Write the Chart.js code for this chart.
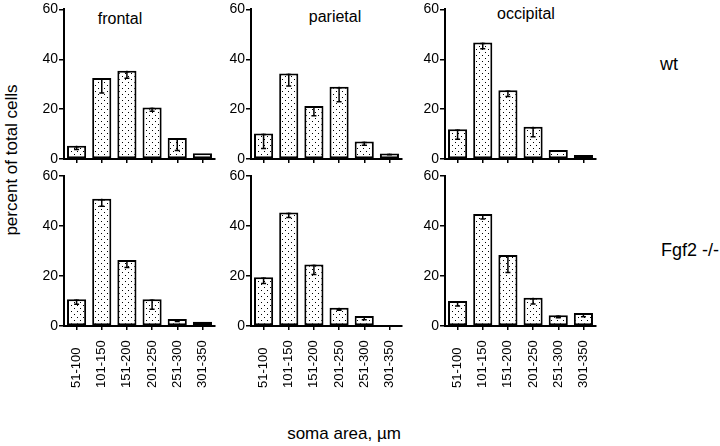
<!DOCTYPE html>
<html>
<head>
<meta charset="utf-8">
<script src="https://cdn.jsdelivr.net/npm/chart.js@4/dist/chart.umd.min.js"></script>
<style>
  body { margin: 0; background: #fff; }
  #wrap { position: relative; width: 720px; height: 446px; background: #fff; overflow: hidden;
          font-family: 'Liberation Sans', Arial, sans-serif; color: #000; }
  canvas { position: absolute; }
  .lbl { position: absolute; white-space: nowrap; line-height: 1; }
</style>
</head>
<body>
<div id="wrap">
  <div class="lbl" style="left:120px; top:11px; font-size:16px; transform:translateX(-50%)">frontal</div>
  <div class="lbl" style="left:335px; top:9px; font-size:16px; transform:translateX(-50%)">parietal</div>
  <div class="lbl" style="left:526px; top:6px; font-size:16px; transform:translateX(-50%)">occipital</div>
  <div class="lbl" style="left:669px; top:55px; font-size:18px; transform:translateX(-50%)">wt</div>
  <div class="lbl" style="left:690px; top:241px; font-size:18px; transform:translateX(-50%)">Fgf2 -/-</div>
  <div class="lbl" style="left:11px; top:160px; font-size:17px; transform:translate(-50%,-50%) rotate(-90deg)">percent of total cells</div>
  <div class="lbl" style="left:344px; top:425px; font-size:17px; transform:translateX(-50%)">soma area, µm</div>
</div>
<script>
const categories = ['51-100', '101-150', '151-200', '201-250', '251-300', '301-350'];

const frontalWt = [5.3, 32.5, 35.4, 20.7, 8.4, 2.3];
const parietalWt = [10.2, 34.3, 21.3, 29, 7, 2.2];
const occipitalWt = [11.9, 46.7, 27.6, 12.9, 3.6, 1.6];
const frontalKo = [10.7, 50.9, 26.4, 10.7, 2.8, 1.7];
const parietalKo = [19.5, 45.4, 24.6, 7.3, 4, 0];
const occipitalKo = [10, 44.8, 28.4, 11.3, 4.3, 5.2];

const frontalWtErr = [1.5, 6, 3, 1.5, 5, 0];
const parietalWtErr = [6, 5, 4, 6, 1.5, 0.5];
const occipitalWtErr = [4, 2.5, 2.5, 4, 0.5, 0];
const frontalKoErr = [2, 3, 3, 4, 1, 0];
const parietalKoErr = [2.5, 2, 4, 1, 1.5, 0];
const occipitalKoErr = [2, 2, 7, 2.5, 1, 1.5];

const yTicks = [0, 20, 40, 60];

const FONT = "'Liberation Sans', Arial, sans-serif";

// stipple fill
function dotPattern() {
    const c = document.createElement('canvas');
    c.width = 6; c.height = 6;
    const g = c.getContext('2d');
    g.fillStyle = '#fff';
    g.fillRect(0, 0, 6, 6);
    g.fillStyle = '#000';
    g.fillRect(1, 1, 1, 1);
    g.fillRect(4, 4, 1, 1);
    return g.createPattern(c, 'repeat');
}

const errorBars = {
    id: 'errorBars',
    afterDatasetsDraw(chart, args, opts) {
        const ctx = chart.ctx;
        const y = chart.scales.y;
        const meta = chart.getDatasetMeta(0);
        const vals = chart.data.datasets[0].data;
        ctx.save();
        ctx.strokeStyle = '#000';
        ctx.lineWidth = 1.5;
        meta.data.forEach((bar, i) => {
            const e = opts.errors[i];
            if (!e) return;
            const y1 = y.getPixelForValue(vals[i]);
            const y2 = y.getPixelForValue(vals[i] - e);
            ctx.beginPath();
            ctx.moveTo(bar.x, y1); ctx.lineTo(bar.x, y2);
            ctx.moveTo(bar.x - 2.5, y1 + 1); ctx.lineTo(bar.x + 2.5, y1 + 1);
            ctx.moveTo(bar.x - 2.5, y2); ctx.lineTo(bar.x + 2.5, y2);
            ctx.stroke();
        });
        ctx.restore();
    }
};

// rotated category labels, anchored at their start like the original
const bottomLabels = {
    id: 'bottomLabels',
    afterDraw(chart, args, opts) {
        if (!opts.show) return;
        const ctx = chart.ctx;
        const x = chart.scales.x;
        ctx.save();
        ctx.fillStyle = '#000';
        ctx.font = '13px ' + FONT;
        ctx.textAlign = 'left';
        ctx.textBaseline = 'middle';
        x.ticks.forEach((t, i) => {
            ctx.save();
            ctx.translate(x.getPixelForTick(i), x.top + 62);
            ctx.rotate(-Math.PI / 2);
            ctx.fillText(categories[i], 0, 0);
            ctx.restore();
        });
        ctx.restore();
    }
};

const panels = [
    { data: frontalWt, err: frontalWtErr, axisX: 64, top: 0, bottom: false },
    { data: parietalWt, err: parietalWtErr, axisX: 251, top: 0, bottom: false },
    { data: occipitalWt, err: occipitalWtErr, axisX: 445, top: 0, bottom: false },
    { data: frontalKo, err: frontalKoErr, axisX: 64, top: 166, bottom: true },
    { data: parietalKo, err: parietalKoErr, axisX: 251, top: 166, bottom: true },
    { data: occipitalKo, err: occipitalKoErr, axisX: 445, top: 166, bottom: true }
];

const wrap = document.getElementById('wrap');
const fill = dotPattern();

panels.forEach(p => {
    const cv = document.createElement('canvas');
    const xH = p.bottom ? 70 : 10;
    const padTop = p.bottom ? 10 : 9;
    cv.width = 185;
    cv.height = padTop + 150 + xH;
    cv.style.left = (p.axisX - 30) + 'px';
    cv.style.top = p.top + 'px';
    wrap.appendChild(cv);

    new Chart(cv.getContext('2d'), {
        type: 'bar',
        data: {
            labels: categories,
            datasets: [{
                data: p.data,
                backgroundColor: fill,
                borderColor: '#000',
                borderWidth: 2,
                borderSkipped: false,
                barPercentage: 0.76,
                categoryPercentage: 1
            }]
        },
        options: {
            responsive: false,
            animation: false,
            layout: { padding: { top: padTop, right: 4, bottom: 0, left: 0 } },
            plugins: {
                legend: { display: false },
                tooltip: { enabled: false },
                errorBars: { errors: p.err },
                bottomLabels: { show: p.bottom }
            },
            scales: {
                x: {
                    offset: true,
                    ticks: { display: false },
                    grid: { offset: false, drawOnChartArea: false, drawTicks: true, tickLength: 4, color: '#000', lineWidth: 1.5 },
                    border: { color: '#000', width: 2 },
                    afterFit: s => { s.height = xH; }
                },
                y: {
                    min: 0,
                    max: 60,
                    afterBuildTicks: s => { s.ticks = yTicks.map(v => ({ value: v })); },
                    ticks: { color: '#000', font: { size: 14, family: FONT }, padding: 1 },
                    grid: { drawOnChartArea: false, drawTicks: true, tickLength: 5, color: '#000', lineWidth: 1.5 },
                    border: { color: '#000', width: 2 },
                    afterFit: s => { s.width = 30; }
                }
            }
        },
        plugins: [errorBars, bottomLabels]
    });
});
</script>
</body>
</html>
